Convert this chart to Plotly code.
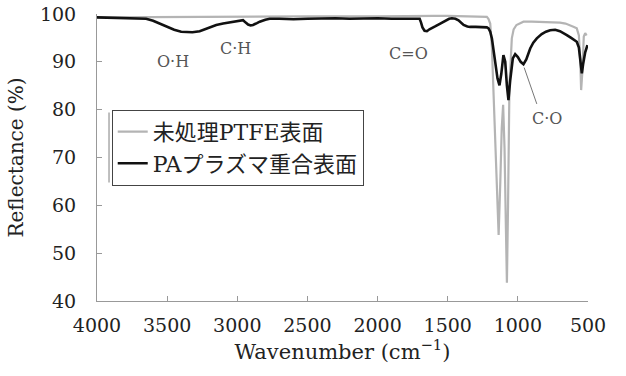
import plotly.graph_objects as go

# PA plasma polymerized surface (black)
pa_x = [4000, 3900, 3800, 3700, 3650, 3600, 3550, 3500, 3450, 3400, 3363, 3320, 3268, 3230, 3197,
        3150, 3101, 3050, 3000, 2959, 2940, 2923, 2905, 2888, 2860, 2840, 2800, 2769, 2700, 2600,
        2500, 2400, 2300, 2200, 2100, 2000, 1900, 1800, 1720, 1700, 1690, 1680, 1665, 1648, 1630,
        1612, 1590, 1553, 1520, 1490, 1470, 1445, 1423, 1405, 1387, 1360, 1340, 1300, 1260, 1221,
        1209, 1197, 1185, 1165, 1145, 1131, 1118, 1103, 1090, 1078, 1067, 1055, 1036, 1019, 1000,
        980, 960, 940, 912, 890, 865, 830, 800, 770, 734, 700, 670, 651, 620, 600,
        580, 565, 552, 544, 535, 520, 504]
pa_y = [99.3, 99.2, 99.1, 99.0, 99.0, 98.6, 98.0, 97.3, 96.7, 96.3, 96.2, 96.2, 96.4, 96.8, 97.3,
        97.7, 98.0, 98.3, 98.6, 98.7, 98.2, 97.8, 97.6, 97.7, 98.1, 98.4, 98.8, 99.0, 99.0, 98.9,
        99.0, 99.1, 99.1, 99.0, 99.1, 99.1, 99.0, 99.0, 99.1, 99.0, 98.2, 97.2, 96.5, 96.4, 96.8,
        97.0, 97.4, 98.0, 98.6, 99.0, 99.1, 99.0, 98.7, 98.2, 97.7, 97.4, 97.3, 97.3, 97.2, 97.2,
        97.0, 96.3, 94.9, 90.5, 86.5, 85.1, 87.5, 91.4, 90.0, 85.0, 82.0, 86.0, 90.7, 91.6, 91.0,
        90.0, 89.5, 90.5, 92.8, 94.0, 94.9, 95.8, 96.3, 96.6, 96.7, 96.4, 96.0, 95.6, 95.0, 94.6,
        94.2, 93.0, 90.0, 87.6, 89.5, 92.0, 93.5]

# Untreated PTFE surface (grey)
ptfe_x = [4000, 3500, 3000, 2500, 2000, 1800, 1700, 1600, 1500, 1400, 1300, 1240, 1221, 1210,
          1197, 1185, 1170, 1155, 1137, 1125, 1115, 1105, 1095, 1085, 1078, 1070, 1060, 1043,
          1030, 1010, 985, 960, 900, 800, 700, 660, 627, 600, 580, 565, 555, 549, 540, 530,
          520, 510]
ptfe_y = [99.3, 99.4, 99.5, 99.5, 99.5, 99.6, 99.7, 99.6, 99.6, 99.5, 99.5, 99.4, 99.4, 99.0,
          98.0, 93.0, 80.0, 65.0, 53.8, 65.0, 76.0, 81.0, 72.0, 55.0, 43.8, 60.0, 85.0, 94.9,
          96.8, 97.7, 98.1, 98.4, 98.4, 98.3, 98.2, 98.0, 97.7, 97.3, 97.0, 95.5, 90.0, 84.1,
          88.0, 95.3, 96.0, 95.5]

x_ticks = [4000, 3500, 3000, 2500, 2000, 1500, 1000, 500]
y_ticks = [40, 50, 60, 70, 80, 90, 100]

band_labels = ["O·H", "C·H", "C=O", "C·O"]
band_x = [3455, 3014, 1779, 793]
band_y = [90.0, 92.8, 91.8, 78.2]

FONT = "DejaVu Serif, Noto Sans CJK JP, serif"

fig = go.Figure()
fig.add_trace(go.Scatter(x=ptfe_x, y=ptfe_y, mode="lines", name="未処理PTFE表面",
                         line=dict(color="#b4b4b4", width=2.2), legendgroup="a"))
fig.add_trace(go.Scatter(x=pa_x, y=pa_y, mode="lines", name="PAプラズマ重合表面",
                         line=dict(color="#111111", width=2.6), legendgroup="b"))

for t, xx, yy in zip(band_labels, band_x, band_y):
    fig.add_annotation(x=xx, y=yy, text=t, showarrow=False,
                       font=dict(family=FONT, size=16, color="#555555"))

fig.add_shape(type="line", x0=955, y0=88.8, x1=865, y1=81.2,
              line=dict(color="#777777", width=1))
# faint shadow edge on the left of the legend box
fig.add_shape(type="line", xref="paper", yref="paper", x0=0.0245, x1=0.0245, y0=0.413, y1=0.657,
              line=dict(color="#aaaaaa", width=1.5))

fig.update_layout(
    template="none",
    width=626, height=376,
    margin=dict(l=97, r=38, t=14, b=75, autoexpand=False),
    paper_bgcolor="white", plot_bgcolor="white",
    font=dict(family=FONT, size=19, color="#222222"),
    showlegend=True,
    legend=dict(x=0.03, y=0.666, xanchor="left", yanchor="top",
                bordercolor="#444444", borderwidth=1, bgcolor="white",
                font=dict(family=FONT, size=22, color="#222222"),
                tracegroupgap=0, itemwidth=30),
    xaxis=dict(range=[4000, 500], tickvals=x_ticks, ticktext=[str(v) for v in x_ticks],
               automargin=False,
               showgrid=False, zeroline=False, showline=True, linecolor="#999999", linewidth=1,
               ticks="inside", ticklen=5, tickcolor="#999999",
               tickfont=dict(family=FONT, size=19, color="#222222"),
               ticklabelstandoff=7,
               title=dict(text="Wavenumber (cm<sup>−1</sup>)",
                          font=dict(family=FONT, size=21, color="#222222"), standoff=8)),
    yaxis=dict(range=[40, 100], tickvals=y_ticks, ticktext=[str(v) for v in y_ticks],
               automargin=False,
               showgrid=False, zeroline=False, showline=True, linecolor="#999999", linewidth=1,
               ticks="inside", ticklen=5, tickcolor="#999999",
               tickfont=dict(family=FONT, size=19, color="#222222"),
               ticklabelstandoff=16,
               title=dict(text="Reflectance (%)",
                          font=dict(family=FONT, size=20, color="#222222"), standoff=10)),
)

fig.write_html("out.html", config={"displayModeBar": False},
               post_script="document.body.style.margin='0';")
